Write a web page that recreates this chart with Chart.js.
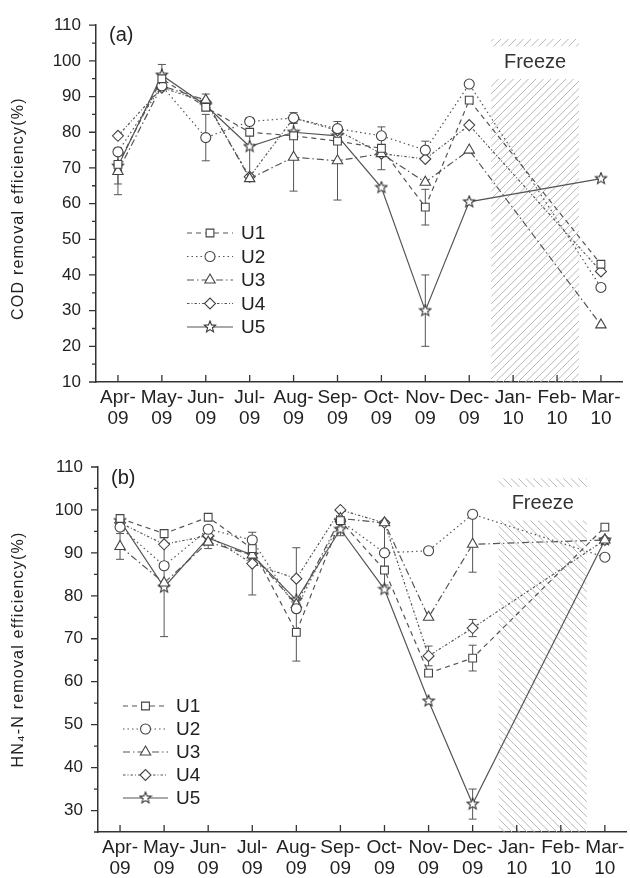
<!DOCTYPE html>
<html>
<head>
<meta charset="utf-8">
<script src="https://cdn.jsdelivr.net/npm/chart.js@4.4.1/dist/chart.umd.min.js"></script>
<style>
  html, body { margin: 0; padding: 0; background: #fff; overflow: hidden; width: 630px; height: 878px; }
  #wrapA { position: absolute; left: 0; top: 0; width: 630px; height: 440px; }
  #wrapB { position: absolute; left: 0; top: 440px; width: 634px; height: 438px; }
</style>
</head>
<body>
<div id="wrapA"><canvas id="chartA" width="630" height="440"></canvas></div>
<div id="wrapB"><canvas id="chartB" width="634" height="438"></canvas></div>
<script>
// categories
const months = [['Apr-', '09'], ['May-', '09'], ['Jun-', '09'], ['Jul-', '09'], ['Aug-', '09'], ['Sep-', '09'],
                ['Oct-', '09'], ['Nov-', '09'], ['Dec-', '09'], ['Jan-', '10'], ['Feb-', '10'], ['Mar-', '10']];
const units = ['U1', 'U2', 'U3', 'U4', 'U5'];

// (a) COD removal efficiency (%)
const codU1 = [71, 95, 87, 80, 79, 77.5, 75.5, 59, 89, null, null, 43];
const codU2 = [74.5, 93, 78.5, 83, 84, 81, 79, 75, 93.5, null, null, 36.5];
const codU3 = [69, 93, 89, 67, 73, 72, 74, 66, 75, null, null, 26];
const codU4 = [79, 92.5, 88.5, 67.5, 84, 80.5, 74, 72.5, 82, null, null, 41];
const codU5 = [70.5, 96, 87.5, 76, 80, 79, 64.5, 30, 60.5, null, null, 67];
// (a) error bars (+/-)
const codErrU1 = [null, null, null, null, null, null, 6, 5, null, null, null, null];
const codErrU2 = [null, null, 6.5, null, null, null, null, 2.5, null, null, null, null];
const codErrU3 = [6.5, null, 1.7, null, 9.5, 11, null, null, null, null, null, null];
const codErrU4 = [null, null, null, null, 1.5, null, null, null, null, null, null, null];
const codErrU5 = [5, 3, null, 8, null, null, null, 10, null, null, null, null];

// (b) HN4-N removal efficiency (%)
const nU1 = [98, 94.5, 98.3, 91, 71.5, 97.5, 86, 62, 65.5, null, null, 96];
const nU2 = [96, 87, 95.5, 93, 77, 97.5, 90, 90.5, 99, null, null, 89];
const nU3 = [91.5, 83, 92.5, 89.5, 78, 98, 97, 75, 92, null, null, 93];
const nU4 = [97, 92, 94, 87.5, 84, 100, 97, 66, 72.5, null, null, 93];
const nU5 = [97.5, 82, 93.5, 89.5, 79, 95.5, 81.5, 55.5, 31.5, null, null, 93];
// (b) error bars (+/-)
const nErrU1 = [null, null, null, null, null, null, null, null, 3, null, null, null];
const nErrU2 = [null, null, null, null, null, null, 7.5, null, null, null, null, null];
const nErrU3 = [3, null, 1.5, null, 13.2, null, null, null, 6.5, null, null, null];
const nErrU4 = [null, null, null, 7.3, null, null, null, 2.3, 2, null, null, null];
const nErrU5 = [null, 11.5, null, null, null, 1.5, null, null, 3.5, null, null, null];

const FONT = '"Liberation Sans", Arial, sans-serif';
const INK = '#222';
const LINE = '#555';

function starImg() {
    const c = document.createElement('canvas');
    c.width = c.height = 14;
    const g = c.getContext('2d');
    g.beginPath();
    for (let k = 0; k < 10; k++) {
        const r = k % 2 ? 2.6 : 6;
        const a = -Math.PI / 2 + k * Math.PI / 5;
        g.lineTo(7 + r * Math.cos(a), 7 + r * Math.sin(a));
    }
    g.closePath();
    g.fillStyle = '#fff';
    g.fill();
    g.strokeStyle = '#333';
    g.lineWidth = 1.1;
    g.stroke();
    return c;
}

const dashes = [[5, 4], [1.5, 3], [7, 3, 1.5, 3], [2.5, 2, 1, 2], []];
const styles = ['rect', 'circle', 'triangle', 'rectRot', starImg()];
const radii = [5.5, 5, 6, 5.5, 5];

function hatch(ctx, x0, y0, x1, y1, dir) {
    const step = 7.5;
    ctx.save();
    ctx.beginPath();
    ctx.rect(x0, y0, x1 - x0, y1 - y0);
    ctx.clip();
    ctx.strokeStyle = '#b8b8b8';
    ctx.lineWidth = 1;
    ctx.beginPath();
    if (dir > 0) {
        // '/' lines: x + y = c
        for (let c = Math.floor((x0 + y0) / step) * step; c <= x1 + y1; c += step) {
            ctx.moveTo(c - y1, y1);
            ctx.lineTo(c - y0, y0);
        }
    } else {
        // '\' lines: x - y = c
        for (let c = Math.floor((x0 - y1) / step) * step; c <= x1 - y0; c += step) {
            ctx.moveTo(c + y0, y0);
            ctx.lineTo(c + y1, y1);
        }
    }
    ctx.stroke();
    ctx.restore();
}

const decor = {
    id: 'decor',
    beforeDatasetsDraw(chart, args, o) {
        const ctx = chart.ctx, xs = chart.scales.x, ys = chart.scales.y;
        const area = chart.chartArea;
        const half = (xs.getPixelForValue(1) - xs.getPixelForValue(0)) / 2;
        const xa = xs.getPixelForValue(8) + half + o.shift;
        const xb = xs.getPixelForValue(10) + half + o.shift;
        hatch(ctx, xa, ys.getPixelForValue(o.strip[0]), xb, ys.getPixelForValue(o.strip[1]), o.dir);
        hatch(ctx, xa, ys.getPixelForValue(o.mainTop), xb, area.bottom, o.dir);

        // error bars
        ctx.save();
        ctx.strokeStyle = LINE;
        ctx.lineWidth = 1;
        chart.data.datasets.forEach((ds) => {
            ds.errors.forEach((e, i) => {
                const v = ds.data[i];
                if (e == null || v == null) return;
                const x = xs.getPixelForValue(i);
                const yt = ys.getPixelForValue(v + e), yb = ys.getPixelForValue(v - e);
                ctx.beginPath();
                ctx.moveTo(x, yt); ctx.lineTo(x, yb);
                ctx.moveTo(x - 4, yt); ctx.lineTo(x + 4, yt);
                ctx.moveTo(x - 4, yb); ctx.lineTo(x + 4, yb);
                ctx.stroke();
            });
        });
        ctx.restore();
    },
    afterDraw(chart, args, o) {
        const ctx = chart.ctx, xs = chart.scales.x, ys = chart.scales.y;
        const area = chart.chartArea;
        ctx.save();
        // tick marks: x inward, y outward with minors
        ctx.strokeStyle = '#333';
        ctx.lineWidth = 1.3;
        ctx.beginPath();
        xs.ticks.forEach((t, i) => {
            const x = xs.getPixelForTick(i);
            ctx.moveTo(x, area.bottom);
            ctx.lineTo(x, area.bottom - 7);
        });
        ys.ticks.forEach((t) => {
            const y = ys.getPixelForValue(t.value);
            const len = t.value % 10 === 0 ? 7 : 4;
            ctx.moveTo(area.left, y);
            ctx.lineTo(area.left - len, y);
        });
        ctx.stroke();

        // Freeze label
        const half = (xs.getPixelForValue(1) - xs.getPixelForValue(0)) / 2;
        const xa = xs.getPixelForValue(8) + half + o.shift;
        const xb = xs.getPixelForValue(10) + half + o.shift;
        ctx.fillStyle = '#333';
        ctx.font = '20px ' + FONT;
        ctx.textAlign = 'center';
        ctx.textBaseline = 'middle';
        ctx.fillText('Freeze', (xa + xb) / 2, ys.getPixelForValue(o.freezeY));

        // panel label
        ctx.fillStyle = INK;
        ctx.textAlign = 'left';
        ctx.font = '20px ' + FONT;
        ctx.fillText(o.panel, area.left + 13, ys.getPixelForValue(o.panelY));

        // y axis title
        ctx.save();
        ctx.translate(o.titleX, (area.top + area.bottom) / 2 + o.titleDy);
        ctx.rotate(-Math.PI / 2);
        ctx.font = '16px ' + FONT;
        ctx.letterSpacing = '1.2px';
        ctx.textAlign = 'center';
        ctx.fillText(o.title, 0, 0);
        ctx.restore();

        // legend
        const lg = o.legend;
        chart.data.datasets.forEach((ds, i) => {
            const y = lg.y + i * lg.gap;
            ctx.save();
            ctx.strokeStyle = LINE;
            ctx.lineWidth = 1.2;
            ctx.setLineDash(ds.borderDash);
            ctx.beginPath();
            ctx.moveTo(lg.x, y);
            ctx.lineTo(lg.x + lg.w, y);
            ctx.stroke();
            ctx.setLineDash([]);
            ctx.fillStyle = '#fff';
            ctx.strokeStyle = '#444';
            ctx.lineWidth = 1.1;
            Chart.helpers.drawPoint(ctx, { pointStyle: ds.pointStyle, radius: ds.pointRadius, borderWidth: 1.1, rotation: 0 }, lg.x + lg.w / 2, y);
            ctx.restore();
            ctx.fillStyle = INK;
            ctx.font = '19px ' + FONT;
            ctx.textAlign = 'left';
            ctx.textBaseline = 'middle';
            ctx.fillText(ds.label, lg.x + lg.w + 8, y + 1);
        });
        ctx.restore();
    }
};

function makeChart(id, series, errs, yMin, cfg) {
    return new Chart(document.getElementById(id), {
        type: 'line',
        data: {
            labels: months,
            datasets: series.map((s, i) => ({
                label: units[i],
                data: s,
                errors: errs[i],
                borderColor: LINE,
                borderWidth: 1.2,
                borderDash: dashes[i],
                pointStyle: styles[i],
                pointRadius: radii[i],
                pointBorderColor: '#444',
                pointBackgroundColor: '#fff',
                pointBorderWidth: 1.1,
                spanGaps: true,
                tension: 0,
                fill: false
            }))
        },
        options: {
            responsive: false,
            animation: false,
            layout: { padding: { top: cfg.top, left: 0, right: 0, bottom: 0 } },
            plugins: { legend: { display: false }, tooltip: { enabled: false }, decor: cfg },
            scales: {
                x: {
                    offset: true,
                    grid: { display: false, drawTicks: false },
                    border: { color: '#333', width: 1.5 },
                    ticks: { autoSkip: false, maxRotation: 0, padding: 5, color: INK,
                             font: { family: FONT, size: 19, lineHeight: 1.1 } },
                    afterFit(s) { s.height = cfg.xH; }
                },
                y: {
                    min: yMin, max: 110,
                    grid: { display: false, drawTicks: false },
                    border: { color: '#333', width: 1.5 },
                    ticks: { stepSize: 5, autoSkip: false, padding: 15, color: INK,
                             font: { family: FONT, size: 17 },
                             callback: (v) => (v % 10 === 0 ? v : '') },
                    afterFit(s) { s.width = cfg.yW; }
                }
            }
        },
        plugins: [decor]
    });
}

makeChart('chartA', [codU1, codU2, codU3, codU4, codU5],
    [codErrU1, codErrU2, codErrU3, codErrU4, codErrU5], 10, {
        top: 18, xH: 58, yW: 96, dir: 1, shift: 0,
        strip: [106.2, 104], mainTop: 95, freezeY: 99.6,
        panel: '(a)', panelY: 107.2,
        title: 'COD removal efficiency(%)', titleX: 19, titleDy: 5,
        legend: { x: 187, y: 233, w: 46, gap: 23.5 }
    });

makeChart('chartB', [nU1, nU2, nU3, nU4, nU5],
    [nErrU1, nErrU2, nErrU3, nErrU4, nErrU5], 25, {
        top: 27, xH: 46, yW: 98, dir: -1, shift: 4,
        strip: [107.4, 105.3], mainTop: 97.6, freezeY: 101.5,
        panel: '(b)', panelY: 107.4,
        title: 'HN\u2084-N removal efficiency(%)', titleX: 19, titleDy: 0,
        legend: { x: 123, y: 266, w: 45, gap: 23 }
    });
</script>
</body>
</html>
